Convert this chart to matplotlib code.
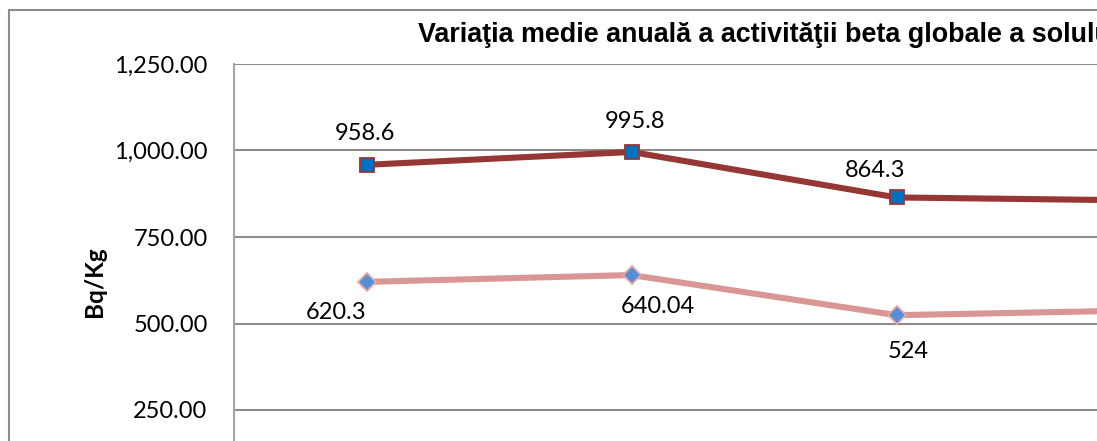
import matplotlib.pyplot as plt
from matplotlib.patches import Rectangle
from matplotlib.ticker import FuncFormatter

# data (5th point is cut off at the right edge)
categories = ["1", "2", "3", "4", "5"]
serie1 = [958.6, 995.8, 864.3, 855.0, 850.0]
serie2 = [620.3, 640.04, 524.0, 539.0, 545.0]
labels1 = ["958.6", "995.8", "864.3", "", ""]
labels2 = ["620.3", "640.04", "524", "", ""]
yticks = [250, 500, 750, 1000, 1250]

W, H = 1097, 441
fig = plt.figure(figsize=(W / 100, H / 100), dpi=100)

# outer chart border (continues past the crop)
fig.patches.append(Rectangle((8.5 / W, -0.5), 2, 1 - 10 / H + 0.5, transform=fig.transFigure,
                             fill=False, edgecolor="#8c8c8c", linewidth=1.5))

# plot area: left 234px, top 64px, 265px per category
left, top, step = 234, 64, 265
y0 = 496.5
ax = fig.add_axes([left / W, (H - y0) / H, step * len(categories) / W, (y0 - top) / H])
x = range(len(categories))

ax.plot(x, serie1, color="#953735", linewidth=4.4, marker="s", markersize=10,
        markerfacecolor="#0070C0", markeredgecolor="#953735", markeredgewidth=1.3, zorder=3)
ax.plot(x, serie2, color="#D99694", linewidth=4.4, marker="D", markersize=9,
        markerfacecolor="#558ED5", markeredgecolor="#E6A9A8", markeredgewidth=1.3, zorder=3)

# data labels, offsets in pixels (center x, baseline)
off1 = [(-2, 25), (4, 24), (-21, 20)]
off2 = [(-30, -37), (26, -38), (12, -43)]
for i, (dx, dy) in enumerate(off1):
    ax.annotate(labels1[i], (i, serie1[i]), xytext=(dx, dy), textcoords="offset pixels",
                ha="center", va="baseline", fontsize=17, family="Lato")
for i, (dx, dy) in enumerate(off2):
    ax.annotate(labels2[i], (i, serie2[i]), xytext=(dx, dy), textcoords="offset pixels",
                ha="center", va="baseline", fontsize=17, family="Lato")

ax.set_xlim(-0.5, len(categories) - 0.5)
ax.set_ylim(0, 1250)
ax.set_yticks(yticks)
ax.yaxis.set_major_formatter(FuncFormatter(lambda v, p: f"{v:,.2f}"))
ax.tick_params(axis="y", length=0, pad=19, labelsize=17)
for t in ax.get_yticklabels():
    t.set_family("Lato")
# category labels sit below the cropped edge
ax.set_xticks(x)
ax.set_xticklabels(categories)
ax.tick_params(axis="x", length=0, labelbottom=False)
ax.grid(axis="y", color="#8c8c8c", linewidth=1.5)
ax.set_axisbelow(True)
for s in ["top", "right", "bottom"]:
    ax.spines[s].set_visible(False)
ax.spines["left"].set_color("#a6a6a6")
ax.spines["left"].set_linewidth(1.5)

ax.set_ylabel("Bq/Kg", fontsize=17.5, fontweight="bold", family="Lato")
ax.yaxis.set_label_coords(95 / W, 1 - 282 / H, transform=fig.transFigure)
ax.yaxis.label.set_va("center")

fig.text(418 / W, 1 - 41.5 / H, "Variaţia medie anuală a activităţii beta globale a solului",
         ha="left", va="baseline", fontsize=19.4, fontweight="bold", family="Liberation Sans")

fig.savefig("out.png", dpi=100)
